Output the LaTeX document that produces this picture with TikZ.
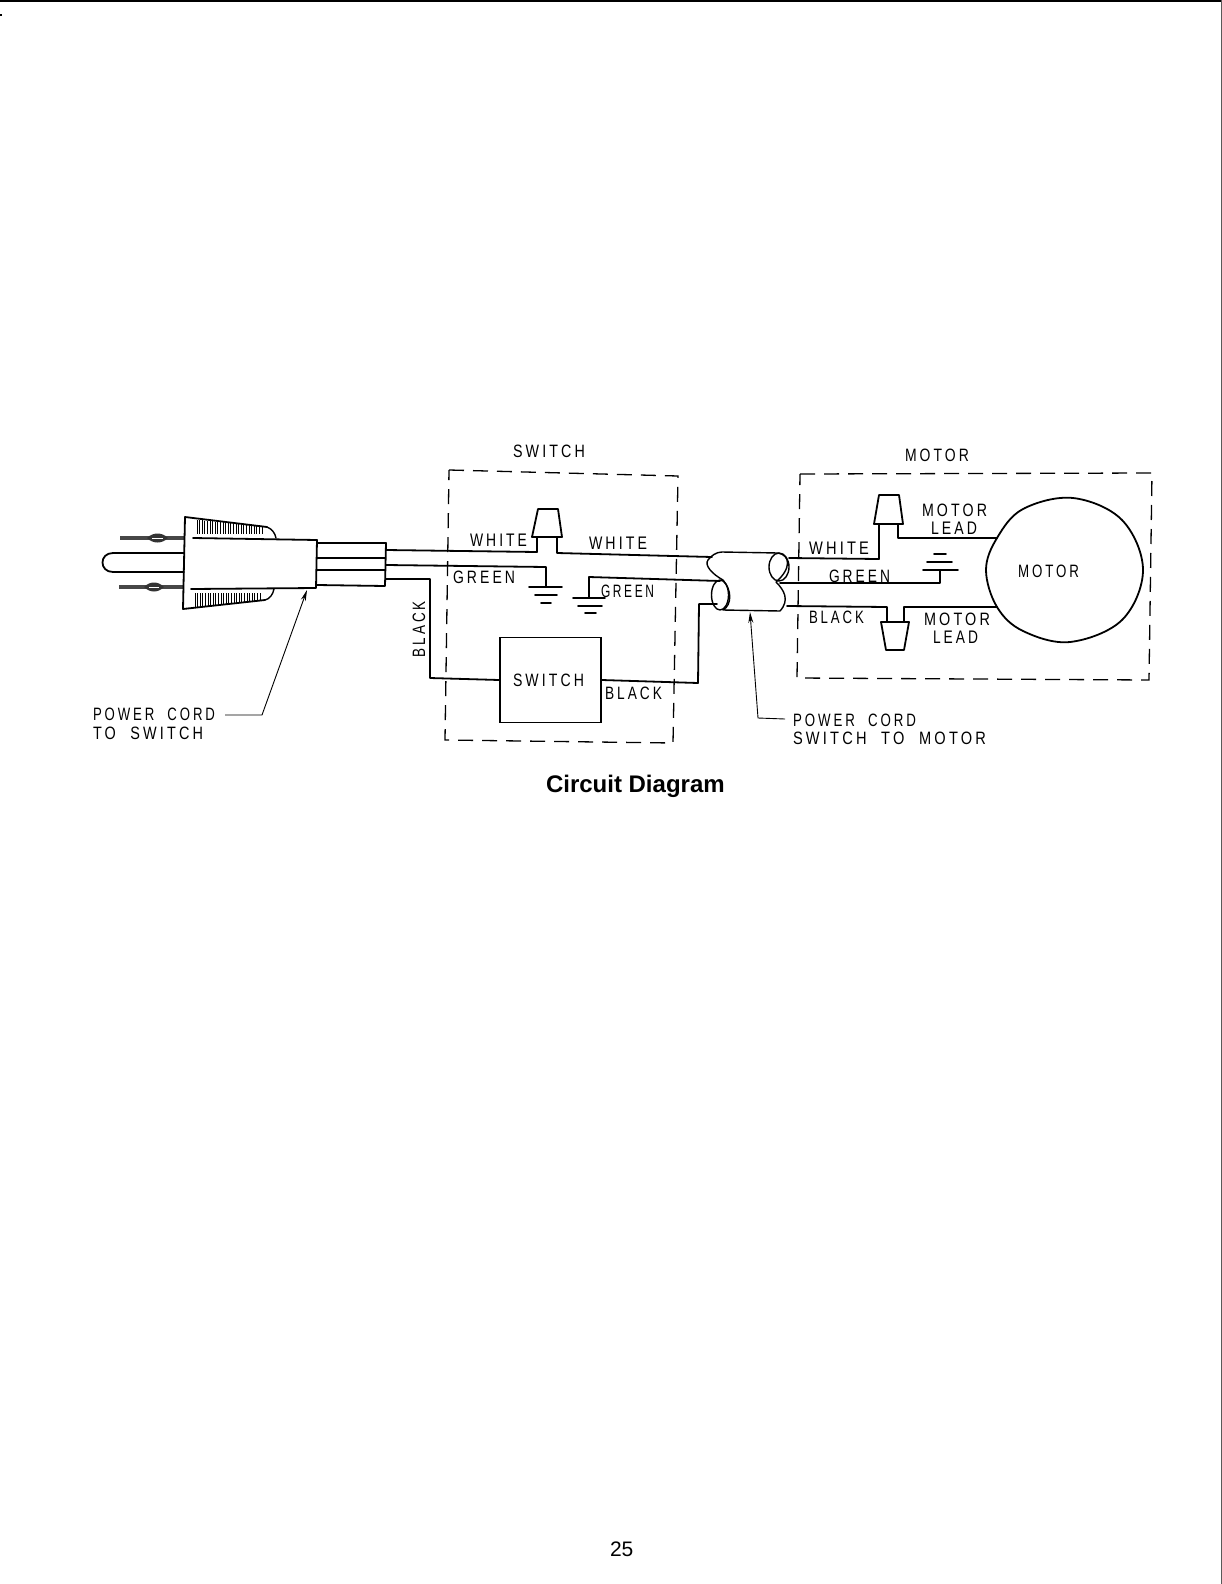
\documentclass[tikz,border=0pt]{standalone}
\usepackage{fontspec}
\usepackage{graphicx}
\usetikzlibrary{arrows.meta}
\setmainfont{Liberation Sans}
\newfontfamily\lblf[LetterSpace=22]{Liberation Sans}
\newcommand{\lbtxt}[2]{\resizebox{#1pt}{12.5pt}{\lblf\fontsize{14}{16}\selectfont #2}}
\tikzset{
  wire/.style={line width=1.8pt,line join=round,line cap=round},
  thinl/.style={line width=1.4pt,line join=round,line cap=round},
  dashbox/.style={line width=1.3pt,dash pattern=on 15pt off 9pt},
  lbl/.style={anchor=base west,inner sep=0pt,outer sep=0pt},
  leader/.style={line width=0.9pt},
  tip/.style={-{Stealth[length=11pt,width=5pt]}},
  prong/.style={line width=4.2pt,draw=black!72},
}
\begin{document}
\begin{tikzpicture}[x=1pt,y=-1pt]
\useasboundingbox (0,0) rectangle (1222,1584);
% page edges
\fill[black] (0,0) rectangle (1222,2);
\fill[black!65] (1221,0) rectangle (1222,1584);
\fill[black] (0,14) rectangle (2,16);

% ---- plug ----
\draw[prong] (120,538) -- (184,538);
\draw[prong] (119,587) -- (184,587);
\fill[black!80] (147,538) .. controls (153,532) and (162,532) .. (168,538) .. controls (162,544) and (153,544) .. (147,538) -- cycle;
\fill[black!80] (144,587) .. controls (150,581) and (158,581) .. (164,587) .. controls (158,593) and (150,593) .. (144,587) -- cycle;
\draw[white,line width=0.9pt] (152,538) -- (163,538);
\draw[white,line width=0.9pt] (149,587) -- (159,587);
\draw[wire] (184,553) -- (113,553) .. controls (99,553) and (99,572) .. (113,572) -- (184,572);
\draw[wire] (267,527) -- (185,517) -- (183,609) -- (265,600);
\draw[thinl] (267,527) .. controls (272,529) and (275,533) .. (276,538);
\draw[thinl] (265,600) .. controls (270,599) and (273,594) .. (274,589);
\draw[wire] (193,538) -- (317,540) -- (316,588) -- (191,589);
\foreach \xx [evaluate=\xx as \yy using {520+(\xx-197)*6/66}] in {197,199.6,...,263}
  \draw[line width=1pt] (\xx,\yy) -- (\xx,534);
\foreach \xx [evaluate=\xx as \yy using {608-(\xx-195)*7/67}] in {195,197.6,...,262}
  \draw[line width=1pt] (\xx,593) -- (\xx,\yy);
% cord sleeve
\draw[wire] (317,543) -- (386,543) -- (385,586) -- (317,585);
\draw[wire] (317,558) -- (385,558);
\draw[wire] (317,570) -- (385,570);

% ---- named wire ends ----
\coordinate (whiteL) at (386,550);
\coordinate (greenL) at (386,565);
\coordinate (blackL) at (386,579);
\coordinate (nutA1) at (537,537);
\coordinate (nutA2) at (557,537);
\coordinate (gndA) at (546,587);
\coordinate (gndB) at (589,598);
\coordinate (jLw) at (712,557);
\coordinate (jLg) at (720,581);
\coordinate (jLb) at (717,604);
\coordinate (jRw) at (789,558);
\coordinate (jRg) at (780,583);
\coordinate (jRb) at (787,606);
\coordinate (nutB1) at (879,525);
\coordinate (nutB2) at (898,525);
\coordinate (nutC1) at (887,622);
\coordinate (nutC2) at (904,622);
\coordinate (gndC) at (940,570);
\coordinate (motA) at (997,538);
\coordinate (motB) at (997,607);

% ---- dashed boxes ----
\draw[dashbox] (449,470) -- (678,476) -- (673,743) -- (445,740) -- cycle;
\draw[dashbox] (800,474) -- (1152,473) -- (1149,680) -- (797,678) -- cycle;

% ---- switch box ----
\node[draw,line width=1.8pt,minimum width=101pt,minimum height=85pt,inner sep=0pt] (swbox) at (550.5,680) {};
\node[lbl] (swtxt) at (513,686) {\lbtxt{71}{SWITCH}};

% ---- motor ----
\draw[wire] plot[smooth cycle,tension=0.6] coordinates {(986,570) (motA) (1023,509) (1073,498) (1122,520) (1143,570) (1122,620) (1070,642) (1023,631) (motB)};
\node[lbl] (motxt) at (1018,577) {\lbtxt{61}{MOTOR}};

% ---- wires ----
\draw[wire] (whiteL) -- (nutA1 |- 0,552) -- (nutA1);
\draw[wire] (nutA2) -- (nutA2 |- 0,553) -- (jLw);
\draw[wire] (greenL) -- (546,567) -- (gndA);
\draw[wire] (gndB) -- (589,577) -- (jLg);
\draw[wire] (blackL) -- (430,579) -- (430,678) -- (swbox.west);
\draw[wire] (swbox.east) -- (698,683) -- (699,604) -- (jLb);
\draw[wire] (jRw) -- (879,559) -- (nutB1);
\draw[wire] (nutB2) -- (898,538) -- (motA);
\draw[wire] (jRg) -- (940,583) -- (gndC);
\draw[wire] (jRb) -- (887,607) -- (nutC1);
\draw[wire] (nutC2) -- (904,607) -- (motB);

% ---- wire nuts ----
\draw[wire] (532,537) -- (538,509) -- (558,509) -- (562,537) -- cycle;
\draw[wire] (874,524) -- (879,495) -- (899,495) -- (903,524) -- cycle;
\draw[wire] (881,622) -- (909,622) -- (904,650) -- (886,650) -- cycle;

% ---- grounds ----
\draw[wire] (529,587) -- (562,587) (535,595) -- (557,595) (541,603) -- (551,603);
\draw[wire] (573,598) -- (605,598) (578,606) -- (602,606) (585,613) -- (596,613);
\draw[wire] (923,570) -- (958,570) (927,562) -- (952,562) (934,554) -- (946,554);

% ---- cord jacket ----
\draw[thinl] (722,552) -- (778,553)
  .. controls (790,555) and (792,568) .. (776,582)
  .. controls (784,590) and (790,600) .. (780,611)
  -- (723,610)
  .. controls (732,605) and (732,590) .. (723,580)
  .. controls (712,574) and (704,565) .. (708,560)
  .. controls (711,556) and (716,552) .. (722,552) -- cycle;
\draw[thinl] (720,595) ellipse [x radius=8.5,y radius=15];
\draw[thinl] (779,567) ellipse [x radius=10,y radius=14];

% ---- leaders ----
\coordinate (ldA) at (225,715);
\coordinate (ldAk) at (262,715);
\coordinate (ldAt) at (307,590);
\draw[leader,tip] (ldA) -- (ldAk) -- (ldAt);
\coordinate (ldB) at (785,719);
\coordinate (ldBk) at (758,718);
\coordinate (ldBt) at (750,612);
\draw[leader,tip] (ldB) -- (ldBk) -- (ldBt);

% ---- labels ----
\node[lbl] (t1) at (513,457) {\lbtxt{72}{SWITCH}};
\node[lbl] (t2) at (905,461) {\lbtxt{64}{MOTOR}};
\node[lbl] (t3) at (470,546) {\lbtxt{57}{WHITE}};
\node[lbl] (t4) at (589,549) {\lbtxt{58}{WHITE}};
\node[lbl] (t5) at (453,583) {\lbtxt{62}{GREEN}};
\node[lbl] (t6) at (601,597) {\lbtxt{53}{GREEN}};
\node[lbl] (t7) at (605,699) {\lbtxt{57}{BLACK}};
\node[lbl,rotate=90] (t8) at (425,657) {\lbtxt{56}{BLACK}};
\node[lbl] (t9) at (93,720) {\lbtxt{122}{POWER~~CORD}};
\node[lbl] (t10) at (93,739) {\lbtxt{110}{TO~~SWITCH}};
\node[lbl] (t11) at (809,554) {\lbtxt{60}{WHITE}};
\node[lbl] (t12) at (829,582) {\lbtxt{61}{GREEN}};
\node[lbl] (t13) at (809,623) {\lbtxt{55}{BLACK}};
\node[lbl] (t14) at (922,516) {\lbtxt{65}{MOTOR}};
\node[lbl] (t15) at (931,534) {\lbtxt{46}{LEAD}};
\node[lbl] (t16) at (924,625) {\lbtxt{66}{MOTOR}};
\node[lbl] (t17) at (933,643) {\lbtxt{45}{LEAD}};
\node[lbl] (t18) at (793,726) {\lbtxt{123}{POWER~~CORD}};
\node[lbl] (t19) at (793,744) {\lbtxt{193}{SWITCH~~TO~~MOTOR}};
\node[lbl,font=\fontsize{24}{28}\selectfont\bfseries] (cap) at (546,792) {Circuit Diagram};
\node[lbl,font=\fontsize{21}{24}\selectfont] (pg) at (610,1556) {25};
\end{tikzpicture}
\end{document}
